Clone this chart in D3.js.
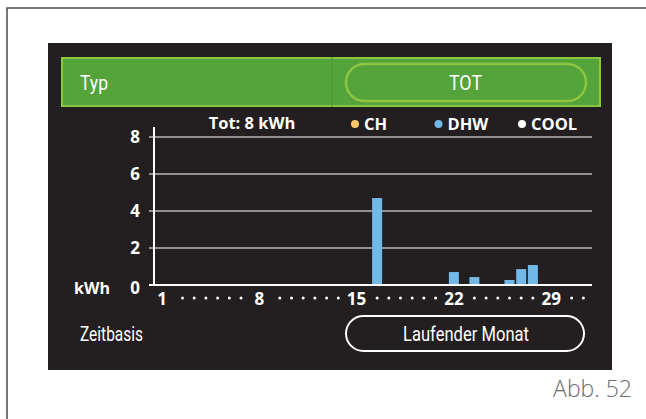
<!DOCTYPE html>
<html>
<head>
<meta charset="utf-8">
<script src="https://cdn.jsdelivr.net/npm/d3@7"></script>
<style>
  html, body { margin: 0; padding: 0; background: #ffffff; }
  svg { display: block; }
  .cond { font-family: "Roboto", "Noto Sans", sans-serif; }
  .bold { font-family: "Open Sans", "Noto Sans", sans-serif; font-weight: 700; }
</style>
</head>
<body>
<svg id="chart" width="646" height="419"></svg>
<script>
// Daily energy for the current month (kWh), by service
const days = [16, 22, 23, 26, 27, 28];
const dhwValues = [4.7, 0.7, 0.43, 0.27, 0.86, 1.08];
const yTicks = [0, 2, 4, 6, 8];
const dayLabels = [1, 8, 15, 22, 29];
const daysInMonth = 31;
const legendNames = ["CH", "DHW", "COOL"];
const legendColors = ["#fcc66a", "#72b9e8", "#ffffff"];
const totalLabel = "Tot: 8 kWh";
const typeLabel = "Typ";
const typeValue = "TOT";
const periodLabel = "Zeitbasis";
const periodValue = "Laufender Monat";
const unitLabel = "kWh";
const caption = "Abb. 52";

const svg = d3.select("#chart");

// narrow UI text: squeeze the glyphs to the given width
function narrowText(sel, txt, width) {
  return sel.attr("class", "cond").attr("fill", "#fff")
    .attr("textLength", width).attr("lengthAdjust", "spacingAndGlyphs").text(txt);
}

// outer figure frame
svg.append("path")
  .attr("d", "M646,8 H7 V419")
  .attr("fill", "none").attr("stroke", "#4a4a4a").attr("stroke-width", 1.5);

// device screen
svg.append("rect").attr("x", 48).attr("y", 43).attr("width", 564).attr("height", 327)
  .attr("fill", "#231f20");

// type selector bar
svg.append("rect").attr("x", 62).attr("y", 58).attr("width", 538).attr("height", 48)
  .attr("fill", "#55a33b").attr("stroke", "#8dc63f").attr("stroke-width", 2);
svg.append("line").attr("x1", 332).attr("x2", 332).attr("y1", 57).attr("y2", 107)
  .attr("stroke", "#4b9133").attr("stroke-width", 1);
svg.append("rect").attr("x", 346).attr("y", 64).attr("width", 240).attr("height", 37)
  .attr("rx", 18.5).attr("fill", "none").attr("stroke", "#8dc63f").attr("stroke-width", 2.5);
narrowText(svg.append("text").attr("x", 80).attr("y", 90).attr("font-size", 21), typeLabel, 28);
narrowText(svg.append("text").attr("x", 449).attr("y", 90).attr("font-size", 21), typeValue, 33);

// scales: labelled days get a wider slot than the dotted days between them
const labelX0 = 162, weekW = 97.3, labelGap = 20.5, dotPitch = 11.7;
const anchorDomain = [], anchorRange = [];
dayLabels.forEach((d, i) => {
  const base = labelX0 + i * weekW;
  anchorDomain.push(d); anchorRange.push(base);
  if (d + 1 <= daysInMonth) { anchorDomain.push(d + 1); anchorRange.push(base + labelGap); }
  const last = Math.min(d + 6, daysInMonth);
  if (last > d + 1) { anchorDomain.push(last); anchorRange.push(base + labelGap + (last - d - 1) * dotPitch); }
});
const x = d3.scaleLinear().domain(anchorDomain).range(anchorRange);
const y = d3.scaleLinear().domain([0, 8]).range([285, 137]);

const plotLeft = 149, plotRight = 592;

// gridlines
svg.append("g").selectAll("line").data(yTicks.filter(t => t > 0)).join("line")
  .attr("x1", plotLeft).attr("x2", plotRight)
  .attr("y1", d => y(d)).attr("y2", d => y(d))
  .attr("stroke", "#b8b8b8").attr("stroke-width", 1.3);

// y axis labels
svg.append("g").selectAll("text").data(yTicks).join("text")
  .attr("class", "bold").attr("x", 140).attr("y", d => y(d) + (d === 0 ? 3 : 0)).attr("dy", "0.36em")
  .attr("text-anchor", "end").attr("font-size", 17).attr("fill", "#fff").text(d => d);
svg.append("text").attr("class", "bold").attr("x", 110).attr("y", y(0) + 3).attr("dy", "0.36em")
  .attr("text-anchor", "end").attr("font-size", 16).attr("fill", "#fff").text(unitLabel);

// bars
svg.append("g").selectAll("rect").data(days).join("rect")
  .attr("x", (d) => x(d) - 5).attr("width", 10)
  .attr("y", (d, i) => y(dhwValues[i])).attr("height", (d, i) => y(0) - y(dhwValues[i]))
  .attr("fill", legendColors[1]);

// axes lines
svg.append("line").attr("x1", 154).attr("x2", 154).attr("y1", 127).attr("y2", y(0))
  .attr("stroke", "#fff").attr("stroke-width", 2);
svg.append("line").attr("x1", plotLeft).attr("x2", plotRight).attr("y1", y(0)).attr("y2", y(0))
  .attr("stroke", "#fff").attr("stroke-width", 2);

// x axis: day numbers and dots
const allDays = d3.range(1, daysInMonth + 1);
svg.append("g").selectAll("text").data(dayLabels).join("text")
  .attr("class", "bold").attr("x", d => x(d)).attr("y", 305)
  .attr("text-anchor", "middle").attr("font-size", 17).attr("fill", "#fff").text(d => d);
svg.append("g").selectAll("circle").data(allDays.filter(d => !dayLabels.includes(d))).join("circle")
  .attr("cx", d => x(d)).attr("cy", 298).attr("r", 1.5).attr("fill", "#fff");

// legend
svg.append("text").attr("class", "bold").attr("x", 252).attr("y", 129)
  .attr("text-anchor", "middle").attr("font-size", 16.5).attr("fill", "#fff").text(totalLabel);
const lx = d3.scalePoint().domain(legendNames).range([355, 522]);
const lg = svg.append("g").selectAll("g").data(legendNames).join("g")
  .attr("transform", d => `translate(${lx(d)},124)`);
lg.append("circle").attr("r", 4).attr("fill", (d, i) => legendColors[i]);
lg.append("text").attr("class", "bold").attr("x", 9).attr("y", 5.5)
  .attr("font-size", 16.5).attr("fill", "#fff").text(d => d);

// time base selector
narrowText(svg.append("text").attr("x", 80).attr("y", 341).attr("font-size", 20), periodLabel, 63);
svg.append("rect").attr("x", 346).attr("y", 316).attr("width", 238).attr("height", 35)
  .attr("rx", 17.5).attr("fill", "none").attr("stroke", "#fff").attr("stroke-width", 2);
narrowText(svg.append("text").attr("x", 403).attr("y", 341).attr("font-size", 20), periodValue, 126);

// figure caption
svg.append("text").attr("x", 632).attr("y", 397).attr("text-anchor", "end")
  .attr("font-family", "'Open Sans', 'Noto Sans', sans-serif").attr("font-weight", 300)
  .attr("font-size", 23).attr("fill", "#6d6d6d").text(caption);
</script>
</body>
</html>
